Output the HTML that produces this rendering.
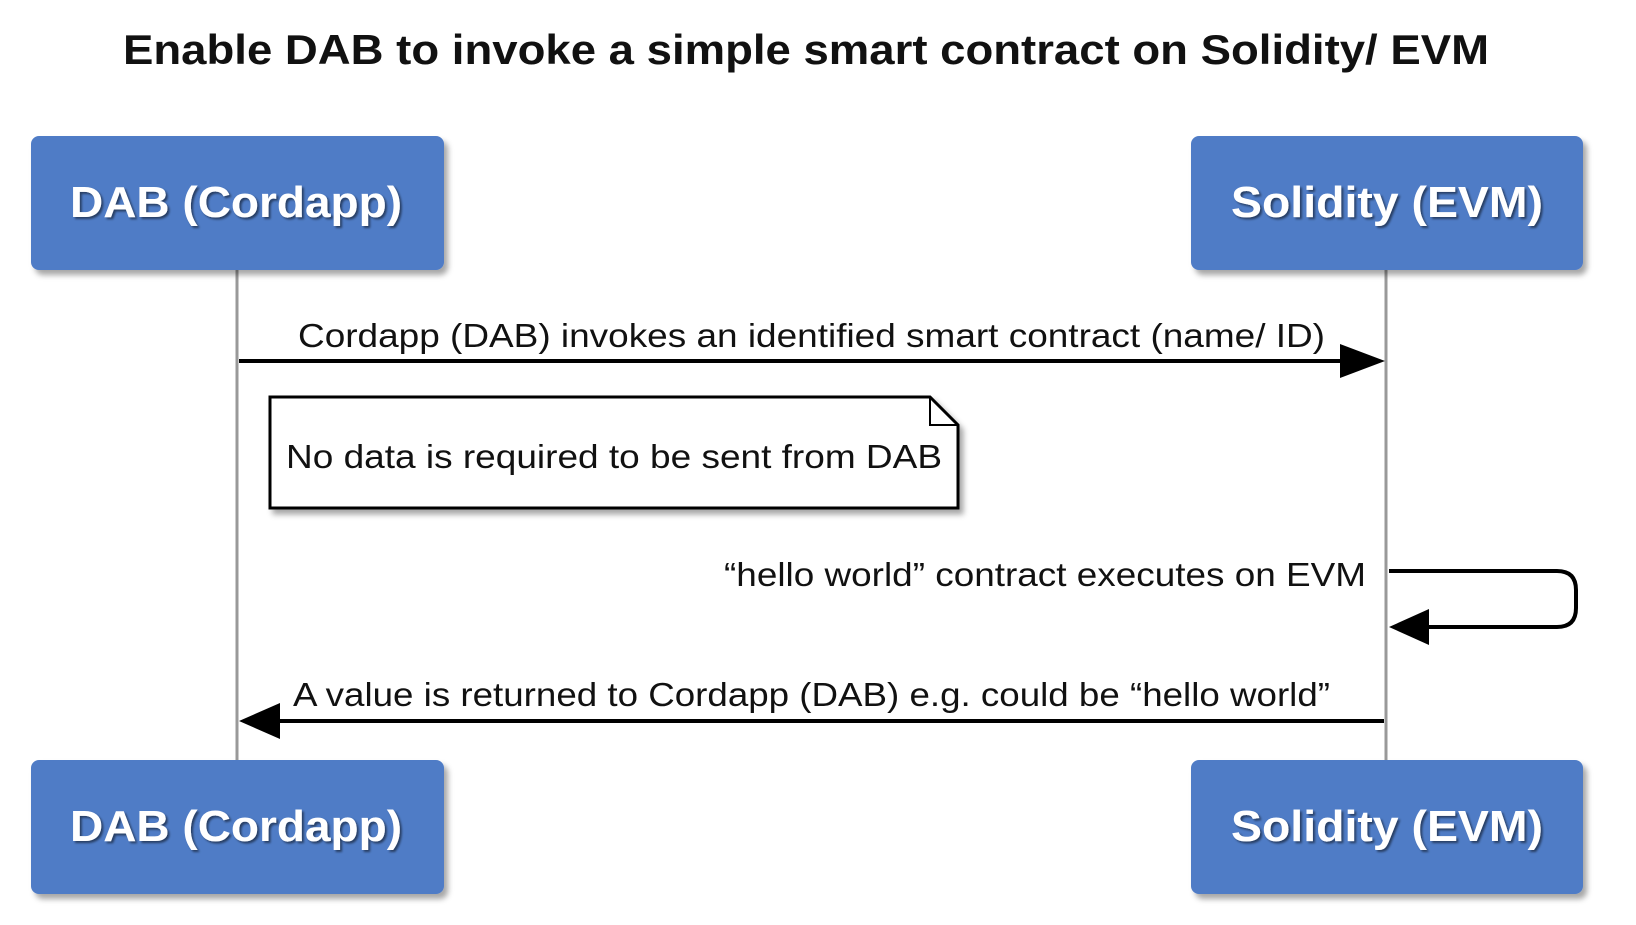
<!DOCTYPE html>
<html><head><style>
body{margin:0;background:#fff;}
svg text{font-family:"Liberation Sans",Arial,sans-serif;}
</style></head><body>
<svg width="1636" height="920" viewBox="0 0 1636 920" xmlns="http://www.w3.org/2000/svg">
<defs>
<filter id="sh" x="-10%" y="-10%" width="130%" height="140%"><feDropShadow dx="4" dy="5" stdDeviation="3" flood-color="#000" flood-opacity="0.35"/></filter>
<filter id="ts"><feDropShadow dx="2" dy="2" stdDeviation="1" flood-color="#000" flood-opacity="0.5"/></filter>
</defs>
<text x="123" y="64" font-size="42" font-weight="bold" fill="#111" textLength="1366" lengthAdjust="spacingAndGlyphs">Enable DAB to invoke a simple smart contract on Solidity/ EVM</text>
<line x1="237" y1="270" x2="237" y2="760" stroke="#999" stroke-width="3"/>
<line x1="1386" y1="270" x2="1386" y2="760" stroke="#999" stroke-width="3"/>
<g filter="url(#sh)">
<rect x="31" y="136" width="413" height="134" rx="8" fill="#4f7cc6"/>
<rect x="1191" y="136" width="392" height="134" rx="8" fill="#4f7cc6"/>
<rect x="31" y="760" width="413" height="134" rx="8" fill="#4f7cc6"/>
<rect x="1191" y="760" width="392" height="134" rx="8" fill="#4f7cc6"/>
</g>
<g fill="#fff" font-size="44" font-weight="bold" filter="url(#ts)" lengthAdjust="spacingAndGlyphs">
<text x="70" y="217" textLength="332" lengthAdjust="spacingAndGlyphs">DAB (Cordapp)</text>
<text x="1231" y="217" textLength="312" lengthAdjust="spacingAndGlyphs">Solidity (EVM)</text>
<text x="70" y="841" textLength="332" lengthAdjust="spacingAndGlyphs">DAB (Cordapp)</text>
<text x="1231" y="841" textLength="312" lengthAdjust="spacingAndGlyphs">Solidity (EVM)</text>
</g>
<text x="298" y="347" font-size="33" fill="#111" textLength="1027" lengthAdjust="spacingAndGlyphs">Cordapp (DAB) invokes an identified smart contract (name/ ID)</text>
<line x1="239" y1="361" x2="1345" y2="361" stroke="#000" stroke-width="4"/>
<polygon points="1340,344 1385,361 1340,378" fill="#000"/>
<g filter="url(#sh)"><path d="M270,397 H930 L958,425 V508 H270 Z" fill="#fff" stroke="#000" stroke-width="3"/></g>
<path d="M930,397 V425 H958" fill="none" stroke="#000" stroke-width="2"/>
<text x="286" y="468" font-size="33" fill="#111" textLength="656" lengthAdjust="spacingAndGlyphs">No data is required to be sent from DAB</text>
<text x="724" y="586" font-size="33" fill="#111" textLength="642" lengthAdjust="spacingAndGlyphs">“hello world” contract executes on EVM</text>
<path d="M1389,571 H1557 Q1576,571 1576,590 V608 Q1576,627 1557,627 H1420" fill="none" stroke="#000" stroke-width="4"/>
<polygon points="1429,609 1389,627 1429,645" fill="#000"/>
<text x="293" y="706" font-size="33" fill="#111" textLength="1037" lengthAdjust="spacingAndGlyphs">A value is returned to Cordapp (DAB) e.g. could be “hello world”</text>
<line x1="1384" y1="721" x2="270" y2="721" stroke="#000" stroke-width="4"/>
<polygon points="280,703 239,721 280,739" fill="#000"/>
</svg>
</body></html>
